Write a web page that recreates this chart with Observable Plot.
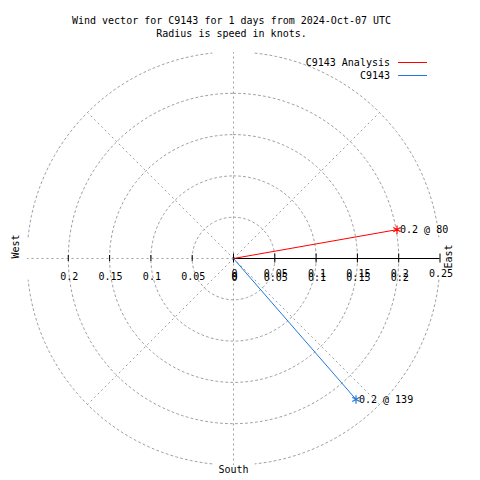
<!DOCTYPE html>
<html><head><meta charset="utf-8">
<script src="https://cdn.jsdelivr.net/npm/d3@7"></script>
<script src="https://cdn.jsdelivr.net/npm/@observablehq/plot@0.6"></script>
<style>
body{margin:0;background:#fff;font-family:"DejaVu Sans Mono",monospace;}
#wrap{position:relative;width:480px;height:480px;overflow:hidden;}
#chart{position:absolute;left:0;top:0;}
#title{position:absolute;top:14px;left:0;width:463px;text-align:center;font-size:10px;line-height:13px;color:#000;white-space:pre;}
.lg{position:absolute;font-size:10px;line-height:12px;color:#000;text-align:right;width:200px;}
.ll{position:absolute;height:1px;width:29px;}
</style></head><body>
<div id="wrap">
<div id="chart"></div>
<div id="title"></div>
<div id="legend"></div>
</div>
<script>
// ---- data ----
const titleLines = ["Wind vector for C9143 for 1 days from 2024-Oct-07 UTC", "Radius is speed in knots."];
const series = ["C9143 Analysis", "C9143"];
const speeds = [0.201, 0.226];
const directions = [80, 139];
const vectorLabels = ["0.2 @ 80", "0.2 @ 139"];
const colors = ["#ff0000", "#1e78e0"];
const ringRadii = [0.05, 0.1, 0.15, 0.2];
const outerRadius = 0.25;
const spokeAngles = [0, 45, 135, 180, 225, 270, 315];
const eastTicks = [0, 0.05, 0.1, 0.15, 0.2, 0.25];
const eastTickLabels = ["0", "0.05", "0.1", "0.15", "0.2", "0.25"];
const westTicks = [0, 0.05, 0.1, 0.15, 0.2];
const westTickLabels = ["0", "0.05", "0.1", "0.15", "0.2"];

// ---- geometry helpers ----
const rad = a => a * Math.PI / 180;
const k = 826; // pixels per knot
const cx = 233, cy = 258, W = 480, H = 480;

const ringPts = [];
ringRadii.forEach(r => { for (let a = 0; a <= 360; a += 2) ringPts.push({r: "r" + r, x: r * Math.sin(rad(a)), y: r * Math.cos(rad(a))}); });
[[6, 84], [96, 174], [186, 264], [276, 354]].forEach(([a0, a1], i) => {
  for (let a = a0; a <= a1; a += 2) ringPts.push({r: "o" + i, x: outerRadius * Math.sin(rad(a)), y: outerRadius * Math.cos(rad(a))});
});
const spokes = spokeAngles.map(a => ({x2: outerRadius * Math.sin(rad(a)), y2: outerRadius * Math.cos(rad(a))}));
const vectors = series.map((s, i) => ({
  s, color: colors[i], label: vectorLabels[i],
  x: speeds[i] * Math.sin(rad(directions[i])),
  y: speeds[i] * Math.cos(rad(directions[i]))
}));

const grid = {stroke: "#a0a0a0", strokeWidth: 1, strokeDasharray: "2,3"};
const font = {fontFamily: "DejaVu Sans Mono", fontSize: 10, fill: "#000"};

const chart = Plot.plot({
  width: W, height: H,
  marginTop: 0, marginRight: 0, marginBottom: 0, marginLeft: 0,
  x: {domain: [-cx / k, (W - cx) / k], axis: null},
  y: {domain: [(cy - H) / k, cy / k], axis: null},
  style: {background: "#fff", overflow: "visible"},
  marks: [
    Plot.line(ringPts, {x: "x", y: "y", z: "r", ...grid}),
    Plot.link(spokes, {x1: 0, y1: 0, x2: "x2", y2: "y2", ...grid}),
    // west ticks
    Plot.ruleX(westTicks.slice(1).map(v => -v), {x: d => d, y1: 0, y2: 0, insetTop: -3, insetBottom: -3, stroke: "#000"}),
    // east axis
    Plot.ruleY([0], {x1: 0, x2: outerRadius, stroke: "#000"}),
    Plot.ruleX(eastTicks, {x: d => d, y1: 0, y2: 0, insetTop: -4.5, insetBottom: -4.5, stroke: "#000"}),
    Plot.text(westTicks, {x: d => -d, y: 0, text: (d, i) => westTickLabels[i], dy: 18, dx: 1, ...font}),
    Plot.text(eastTicks, {x: d => d, y: 0, text: (d, i) => eastTickLabels[i], dy: 15, dx: 1, ...font}),
    Plot.text(eastTicks.slice(0, 5), {x: d => d, y: 0, text: (d, i) => eastTickLabels[i], dy: 19, dx: 1, ...font}),
    // compass labels
    Plot.text(["West"], {frameAnchor: "left", y: 0, dx: 15, text: d => d, rotate: -90, ...font}),
    Plot.text(["East"], {x: outerRadius, y: 0, dx: 9, dy: -2, text: d => d, rotate: -90, ...font}),
    Plot.text(["South"], {x: 0, frameAnchor: "bottom", dy: -8, text: d => d, ...font}),
    // vectors
    Plot.link(vectors, {x1: 0, y1: 0, x2: "x", y2: "y", stroke: "color", strokeWidth: 1}),
    Plot.dot(vectors, {x: "x", y: "y", symbol: "asterisk", r: 4, stroke: "color", strokeWidth: 1.2}),
    Plot.text(vectors, {x: "x", y: "y", text: "label", textAnchor: "start", dx: 3, ...font})
  ]
});
document.getElementById("chart").appendChild(chart);
document.getElementById("title").textContent = titleLines.join("\n");

const legend = document.getElementById("legend");
series.forEach((s, i) => {
  const t = document.createElement("div");
  t.className = "lg";
  t.textContent = s;
  t.style.left = (390 - 200) + "px";
  t.style.top = (57 + i * 13) + "px";
  legend.appendChild(t);
  const l = document.createElement("div");
  l.className = "ll";
  l.style.left = "398px";
  l.style.top = (62 + i * 13) + "px";
  l.style.background = colors[i];
  legend.appendChild(l);
});
</script>
</body></html>
